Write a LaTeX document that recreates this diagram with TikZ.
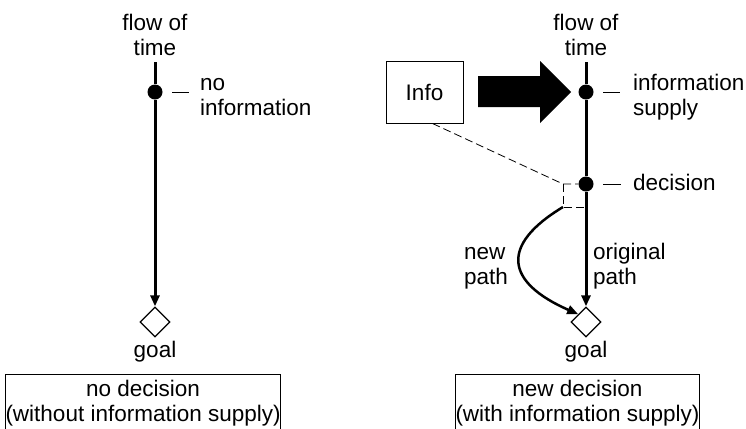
\documentclass[tikz,border=0pt]{standalone}
\usepackage{fontspec}
\setmainfont{Liberation Sans}
\usetikzlibrary{arrows.meta,shapes.geometric}
\begin{document}
\begin{tikzpicture}[x=1bp,y=-1bp,
  lbl/.style={font=\fontsize{22.5bp}{24.5bp}\selectfont, inner sep=0pt},
  tl/.style={line width=3bp},
  dotn/.style={circle, fill=black, minimum size=15bp, inner sep=0pt},
  goaln/.style={diamond, draw, line width=1.3bp, minimum size=30bp, inner sep=0pt, fill=white},
  tick/.style={line width=1bp},
  arr/.style={-{Triangle[length=11bp,width=9bp]}},
  dsh/.style={line width=0.8bp, dash pattern=on 8bp off 4bp},
  outbox/.style={draw, line width=1bp, lbl, align=center, inner xsep=0pt, inner ysep=6bp, anchor=north west},
]
\useasboundingbox (0,0) rectangle (746,428);
\clip (0,0) rectangle (746,428);

% ---------- left ----------
\coordinate (Ltop) at (155,62);
\node[dotn] (Ldot) at (155,92) {};
\node[goaln] (Lgoal) at (155,322) {};
\draw[tl] (Ltop) -- (Ldot);
\draw[tl,arr] (Ldot) -- (Lgoal);
\draw[tick] ([xshift=17bp]Ldot.center) -- ([xshift=34bp]Ldot.center);
\node[lbl, align=center, anchor=base] (Lflow) at (155,55) {flow of\\time};
\node[lbl, align=left, anchor=base west] (Lno) at (200,115) {no\\information};
\node[lbl, anchor=base] (Lgoaltxt) at (155,357) {goal};
\node[outbox, minimum width=207bp] (Lbox) at (5,374) {no decision\\(without information supply)};

% ---------- right ----------
\coordinate (Rtop) at (586,62);
\node[dotn] (Rinfo) at (586,92) {};
\node[dotn] (Rdec) at (586,184) {};
\node[goaln] (Rgoal) at (586,322) {};
\draw[tl] (Rtop) -- (Rinfo);
\draw[tl] (Rinfo) -- (Rdec);
\draw[tl,arr] (Rdec) -- (Rgoal);
\draw[tick] ([xshift=17bp]Rinfo.center) -- ([xshift=34bp]Rinfo.center);
\draw[tick] ([xshift=17bp]Rdec.center) -- ([xshift=35bp]Rdec.center);
\node[lbl, align=center, anchor=base] (Rflow) at (586,55) {flow of\\time};
\node[lbl, align=left, anchor=base west] (Rsup) at (633,115) {information\\supply};
\node[lbl, anchor=base west] (Rdectxt) at (633,190) {decision};
\node[lbl, anchor=base] (Rgoaltxt) at (586,357) {goal};
\node[outbox, minimum width=208bp] (Rbox) at (455,374) {new decision\\(with information supply)};

% info box and big arrow
\node[draw, line width=1bp, minimum width=77bp, minimum height=62bp, lbl] (info) at (424.5,92) {Info};
\fill (478,76) -- (540,76) -- (540,61) -- (571,92) -- (540,123) -- (540,107) -- (478,107) -- cycle;

% dashed link
\coordinate (c1) at (563,184);
\coordinate (c2) at (563,207);
\draw[dsh] ([xshift=8bp]info.south) -- (c1) -- (Rdec);
\draw[dsh] (c1) -- (c2) -- (c2 -| Rdec);

% new path
\draw[line width=2.5bp, arr] (c2) .. controls (500,245) and (505,282) .. (Rgoal.north west);
\node[lbl, align=left, anchor=base east] (newp) at (508,284) {new\\path};
\node[lbl, align=left, anchor=base west] (origp) at (593,284) {original\\path};
\end{tikzpicture}
\end{document}
